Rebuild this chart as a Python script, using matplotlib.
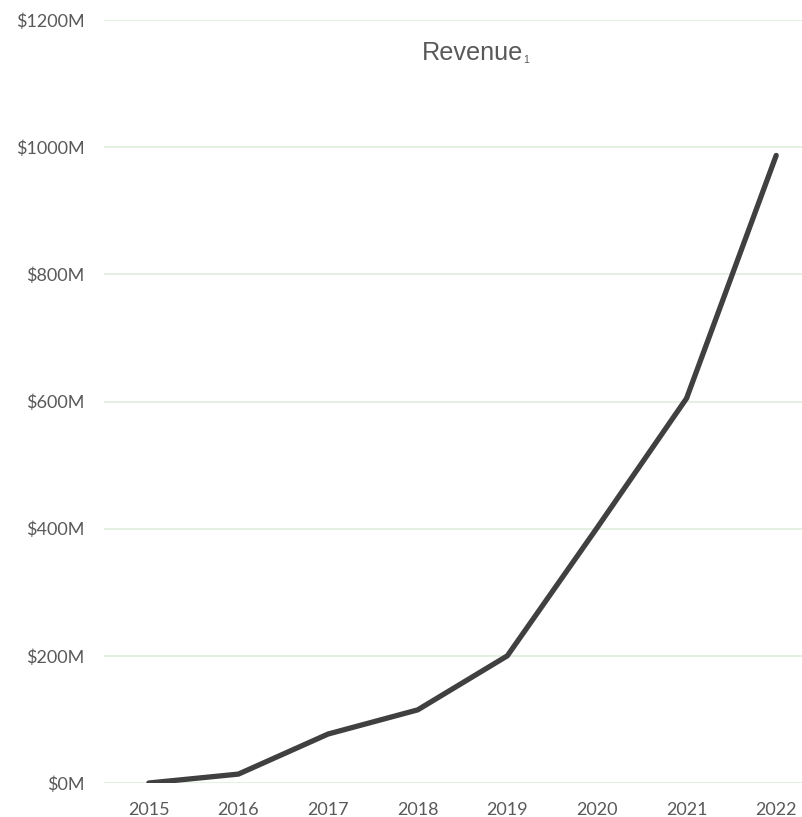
import matplotlib

matplotlib.use("Agg")
import matplotlib.pyplot as plt
from matplotlib.ticker import FuncFormatter

years = ["2015", "2016", "2017", "2018", "2019", "2020", "2021", "2022"]
revenue_m = [0, 14, 77, 115, 200, 401, 605, 987]   # $M
y_ticks = [0, 200, 400, 600, 800, 1000, 1200]

TEXT = "#595959"
LINE = "#404040"
GRID = "#dfeedd"

plt.rcParams["font.family"] = ["Lato", "DejaVu Sans"]

W, H = 803, 817
fig = plt.figure(figsize=(W / 100, H / 100), dpi=100)
# plot area runs a little past the right edge of the canvas
left, right = 104 / W, 821 / W
bottom, top = (H - 783) / H, (H - 20) / H
ax = fig.add_axes([left, bottom, right - left, top - bottom])

x = range(len(years))
ax.plot(x, revenue_m, color=LINE, lw=3.8, solid_capstyle="round",
        solid_joinstyle="round", zorder=3)

ax.set_xlim(-0.5, len(years) - 0.5)
ax.set_ylim(0, 1200)
ax.set_yticks(y_ticks)
ax.yaxis.set_major_formatter(FuncFormatter(lambda v, _: f"${v:.0f}M"))
ax.set_xticks(list(x))
ax.set_xticklabels(years)

ax.grid(axis="y", color=GRID, lw=1.2, zorder=0)
ax.grid(axis="x", visible=False)
for s in ax.spines.values():
    s.set_visible(False)
ax.tick_params(length=0, labelsize=13, labelcolor=TEXT)
ax.tick_params(axis="y", pad=14)
ax.tick_params(axis="x", pad=14)

title = fig.text(473 / W, (H - 60) / H, "Revenue", ha="center",
                 va="baseline", fontsize=18.2, color=TEXT,
                 family=["Liberation Sans", "DejaVu Sans"])
ax.annotate("1", xy=(1, 0), xycoords=title, xytext=(0, 0),
            textcoords="offset points", ha="left", va="bottom",
            fontsize=7.5, color=TEXT, family=["Liberation Sans", "DejaVu Sans"])

fig.savefig("out.png", dpi=100)
